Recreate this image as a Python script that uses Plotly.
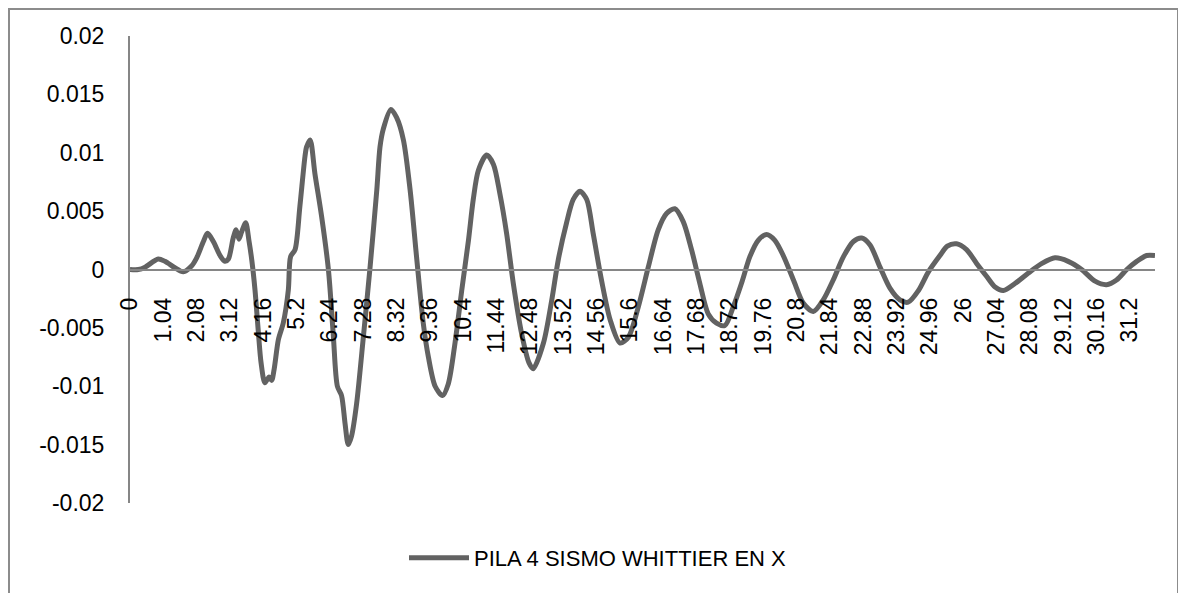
import plotly.graph_objects as go

# Time (s) and displacement values
time_s = [
    0.00, 0.26, 0.47, 0.88, 1.09, 1.40, 1.66, 1.92, 2.08, 2.29, 2.42, 2.60, 2.81, 2.96,
    3.07, 3.22, 3.31, 3.40, 3.48, 3.61, 3.71, 3.80, 3.90, 4.00, 4.09, 4.21, 4.34, 4.42,
    4.50, 4.63, 4.78, 4.94, 5.01, 5.15, 5.30, 5.46, 5.51, 5.62, 5.77, 5.98, 6.19, 6.34,
    6.47, 6.60, 6.71, 6.81, 6.91, 7.07, 7.28, 7.49, 7.70, 7.80, 7.90, 8.14, 8.32, 8.53,
    8.74, 8.94, 9.15, 9.31, 9.52, 9.75, 9.93, 10.14, 10.35, 10.56, 10.71, 10.87, 11.13,
    11.34, 11.54, 11.75, 11.96, 12.22, 12.45, 12.58, 12.90, 13.16, 13.36, 13.62, 13.83,
    14.04, 14.25, 14.45, 14.71, 14.98, 15.29, 15.55, 15.86, 16.17, 16.48, 16.74, 17.00,
    17.26, 17.52, 17.78, 18.04, 18.30, 18.56, 18.82, 19.10, 19.34, 19.60, 19.86, 20.12,
    20.38, 20.70, 21.01, 21.32, 21.63, 21.94, 22.26, 22.57, 22.83, 23.09, 23.40, 23.71,
    24.02, 24.28, 24.60, 24.91, 25.27, 25.50, 25.79, 26.10, 26.42, 26.73, 26.99, 27.25,
    27.61, 28.03, 28.44, 28.86, 29.27, 29.69, 30.11, 30.47, 30.78, 31.10, 31.41, 31.72,
    31.98,
]
disp = [
    0.0, 0.0, 0.0002, 0.0009, 0.0007, 0.00015, -0.0002, 0.0003, 0.0010, 0.0024, 0.0031,
    0.0024, 0.0012, 0.0007, 0.0009, 0.0027, 0.0034, 0.0026, 0.0032, 0.0040, 0.0025, 0.0008,
    -0.00175, -0.0052, -0.0080, -0.0097, -0.0092, -0.0095, -0.0085, -0.0060, -0.0046,
    -0.00175, 0.0011, 0.0017, 0.0054, 0.0097, 0.0105, 0.0111, 0.0082, 0.0045, 0.0, -0.0055,
    -0.0100, -0.0108, -0.0132, -0.0150, -0.0143, -0.0115, -0.0058, 0.0002, 0.0068, 0.0105,
    0.0120, 0.0137, 0.0130, 0.0111, 0.0068, 0.0011, -0.0046, -0.0075, -0.0100, -0.0108,
    -0.0098, -0.0063, -0.0018, 0.0025, 0.0060, 0.0085, 0.0098, 0.0090, 0.0065, 0.0031,
    -0.0012, -0.0055, -0.0080, -0.0085, -0.0063, -0.0026, 0.0008, 0.0040, 0.0060, 0.0067,
    0.0060, 0.0031, -0.0009, -0.0043, -0.0063, -0.0058, -0.0032, 0.0002, 0.0034, 0.0048,
    0.0052, 0.0041, 0.0017, -0.0012, -0.0038, -0.0046, -0.0048, -0.0032, -0.0010, 0.0011,
    0.0025, 0.0030, 0.0025, 0.0012, -0.0009, -0.0029, -0.0036, -0.0026, -0.0009, 0.0011,
    0.0024, 0.0027, 0.0021, 0.0002, -0.0016, -0.0026, -0.0028, -0.0018, -0.0002, 0.0012,
    0.0020, 0.0022, 0.0017, 0.0005, -0.0006, -0.0015, -0.0018, -0.0012, -0.0003, 0.0005,
    0.0010, 0.0007, 0.0000, -0.0010, -0.0013, -0.0009, 0.0000, 0.0007, 0.0012, 0.0012,
]

x_tick_labels = ["0", "1.04", "2.08", "3.12", "4.16", "5.2", "6.24", "7.28", "8.32", "9.36",
                 "10.4", "11.44", "12.48", "13.52", "14.56", "15.6", "16.64", "17.68", "18.72",
                 "19.76", "20.8", "21.84", "22.88", "23.92", "24.96", "26", "27.04", "28.08",
                 "29.12", "30.16", "31.2"]
y_tick_labels = ["-0.02", "-0.015", "-0.01", "-0.005", "0", "0.005", "0.01", "0.015", "0.02"]

series_name = "PILA 4 SISMO WHITTIER EN X"

# page offset (body margin) so targets below are screen pixels
OFF = 8
W, H = 1186, 593
# plot area in screen px: x 130..1155, y 36..503
L, R, T, B = 130 - OFF, W - (1155 - OFF), 36 - OFF, H - (503 - OFF)
pw, ph = W - L - R, H - T - B


def fig_x(px):
    """figure-pixel x -> paper"""
    return (px - L) / pw


def fig_y(py):
    """figure-pixel y -> paper"""
    return (H - B - py) / ph


fig = go.Figure()
fig.add_trace(go.Scatter(
    x=time_s, y=disp, mode="lines", name=series_name,
    line=dict(color="rgb(98,98,98)", width=5, shape="spline", smoothing=0.8),
))

tick_font = dict(family="Liberation Sans, Arial, sans-serif", size=23, color="black")

fig.update_layout(
    width=W, height=H,
    margin=dict(l=L, r=R, t=T, b=B),
    paper_bgcolor="white", plot_bgcolor="white",
    showlegend=True,
    legend=dict(
        orientation="h", x=fig_x(598 - OFF), y=fig_y(558 - OFF),
        xanchor="center", yanchor="middle",
        font=dict(family="Liberation Sans, Arial, sans-serif", size=22, color="black"),
        itemwidth=60, bgcolor="rgba(0,0,0,0)",
    ),
    xaxis=dict(
        range=[0, 31.98], anchor="free", position=0.5,
        tickvals=[float(s) for s in x_tick_labels], ticktext=x_tick_labels,
        tickangle=-90, tickfont=tick_font,
        showgrid=False, zeroline=False,
        showline=True, linecolor="rgb(134,134,134)", linewidth=2,
        ticks="outside", ticklen=18, tickcolor="rgba(0,0,0,0)",
    ),
    yaxis=dict(
        range=[-0.02, 0.02],
        tickvals=[float(s) for s in y_tick_labels], ticktext=y_tick_labels,
        tickfont=tick_font,
        showgrid=False, zeroline=False,
        showline=True, linecolor="rgb(134,134,134)", linewidth=2,
        ticks="outside", ticklen=19, tickcolor="rgba(0,0,0,0)",
    ),
    shapes=[dict(
        type="rect", xref="paper", yref="paper",
        x0=fig_x(1), x1=fig_x(1170),
        y0=fig_y(H + 20), y1=fig_y(1),
        line=dict(color="rgb(140,140,140)", width=2), fillcolor="rgba(0,0,0,0)",
        layer="below",
    )],
)

fig.write_html("out.html")
